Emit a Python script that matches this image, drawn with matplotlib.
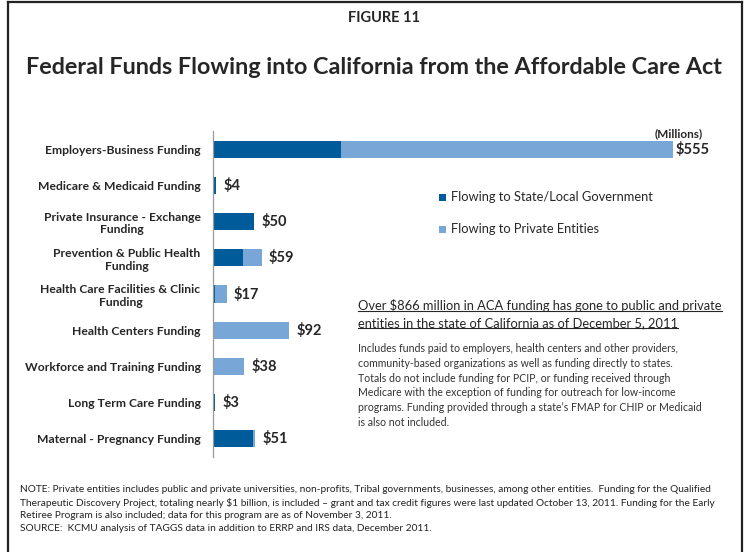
"""Stacked bar chart of ACA federal funds flowing into California."""

import matplotlib

matplotlib.use("Agg")
import matplotlib.pyplot as plt
from matplotlib.lines import Line2D
from matplotlib.patches import Rectangle

categories = [
    "Employers-Business Funding",
    "Medicare & Medicaid Funding",
    "Private Insurance - Exchange\nFunding",
    "Prevention & Public Health\nFunding",
    "Health Care Facilities & Clinic\nFunding",
    "Health Centers Funding",
    "Workforce and Training Funding",
    "Long Term Care Funding",
    "Maternal - Pregnancy Funding",
]
state_local = [155, 4, 50, 36, 3, 0, 0, 3, 48]
private = [400, 0, 0, 23, 14, 92, 38, 0, 3]
totals = [555, 4, 50, 59, 17, 92, 38, 3, 51]

DARK = "#005B9A"
LIGHT = "#77A6D7"
INK = "#262626"
W, H = 749, 552

plt.rcParams["font.family"] = ["Lato", "DejaVu Sans"]

fig = plt.figure(figsize=(W / 100, H / 100), dpi=100)


def fx(px):
    return px / W


def fy(py):
    return 1 - py / H


# frame around the whole panel (open at the bottom edge)
frame = dict(transform=fig.transFigure, color="#222222", linewidth=1.6)
fig.add_artist(Line2D([fx(8), fx(8)], [fy(560), fy(2)], **frame))
fig.add_artist(Line2D([fx(8), fx(742)], [fy(2), fy(2)], **frame))
fig.add_artist(Line2D([fx(742), fx(742)], [fy(2), fy(560)], **frame))

fig.text(fx(384), fy(18), "FIGURE 11", ha="center", va="center",
         fontsize=10.5, fontweight="bold", color=INK)
fig.text(fx(374), fy(68),
         "Federal Funds Flowing into California from the Affordable Care Act",
         ha="center", va="center", fontsize=16.8, fontweight="bold", color=INK)

ax = fig.add_axes([fx(213), fy(457), fx(700) - fx(213), fy(131) - fy(457)])
rows = list(range(len(categories)))
ax.barh(rows, state_local, height=0.47, color=DARK, label="Flowing to State/Local Government")
ax.barh(rows, private, left=state_local, height=0.47, color=LIGHT,
        label="Flowing to Private Entities")
ax.set_ylim(len(categories) - 0.5, -0.5)
ax.set_xlim(0, 588)
ax.set_yticks(rows)
ax.set_yticklabels(categories, fontsize=8.7, fontweight="bold", color=INK,
                   linespacing=1.2, multialignment="center")
ax.tick_params(axis="y", length=0, pad=9)
ax.set_xticks([])
for side in ("top", "right", "bottom"):
    ax.spines[side].set_visible(False)
ax.spines["left"].set_color("#9a9a9a")
ax.spines["left"].set_linewidth(0.9)

for row, total in zip(rows, totals):
    gap = 2 if total == max(totals) else 5
    ax.annotate(f"${total}", (total, row), xytext=(gap, 0), textcoords="offset points",
                ha="left", va="center", fontsize=10.5, fontweight="bold", color=INK)
fig.text(fx(703), fy(134), "(Millions)", ha="right", va="center",
         fontsize=8.5, fontweight="bold", color=INK)

# legend entries
for ypx, color, label in [(197, DARK, "Flowing to State/Local Government"),
                          (229, LIGHT, "Flowing to Private Entities")]:
    fig.add_artist(Rectangle((fx(439), fy(ypx + 3.5)), fx(7), fy(0) - fy(7),
                             transform=fig.transFigure, facecolor=color,
                             edgecolor="none"))
    fig.text(fx(451), fy(ypx), label, ha="left", va="center",
             fontsize=9.3, color=INK)

headline = ["Over $866 million in ACA funding has gone to public and private",
            "entities in the state of California as of December 5, 2011"]
head_artists = []
for i, line in enumerate(headline):
    head_artists.append(fig.text(fx(358), fy(306 + 17.5 * i), line, ha="left",
                                 va="center", fontsize=9.3, color=INK))

body = ("Includes funds paid to employers, health centers and other providers,\n"
        "community-based organizations as well as funding directly to states.\n"
        "Totals do not include funding for PCIP, or funding received through\n"
        "Medicare with the exception of funding for outreach for low-income\n"
        "programs. Funding provided through a state\u2019s FMAP for CHIP or Medicaid\n"
        "is also not included.")
fig.text(fx(358), fy(343), body, ha="left", va="top", fontsize=7.6,
         color="#333333", linespacing=1.42)

note = ("NOTE: Private entities includes public and private universities, non-profits, "
        "Tribal governments, businesses, among other entities.  Funding for the Qualified\n"
        "Therapeutic Discovery Project, totaling nearly $1 billion, is included \u2013 grant "
        "and tax credit figures were last updated October 13, 2011. Funding for the Early\n"
        "Retiree Program is also included; data for this program are as of November 3, 2011.\n"
        "SOURCE:  KCMU analysis of TAGGS data in addition to ERRP and IRS data, December 2011.")
fig.text(fx(20), fy(485), note, ha="left", va="top", fontsize=7.3,
         color="#222222", linespacing=1.5)

# underline the headline sentences
fig.canvas.draw()
renderer = fig.canvas.get_renderer()
inv = fig.transFigure.inverted()
for art in head_artists:
    bb = art.get_window_extent(renderer).transformed(inv)
    fig.add_artist(Line2D([bb.x0, bb.x1], [bb.y0 + 0.003, bb.y0 + 0.003],
                          transform=fig.transFigure, color=INK, linewidth=0.8))

fig.savefig("out.png", dpi=100, facecolor="white")
